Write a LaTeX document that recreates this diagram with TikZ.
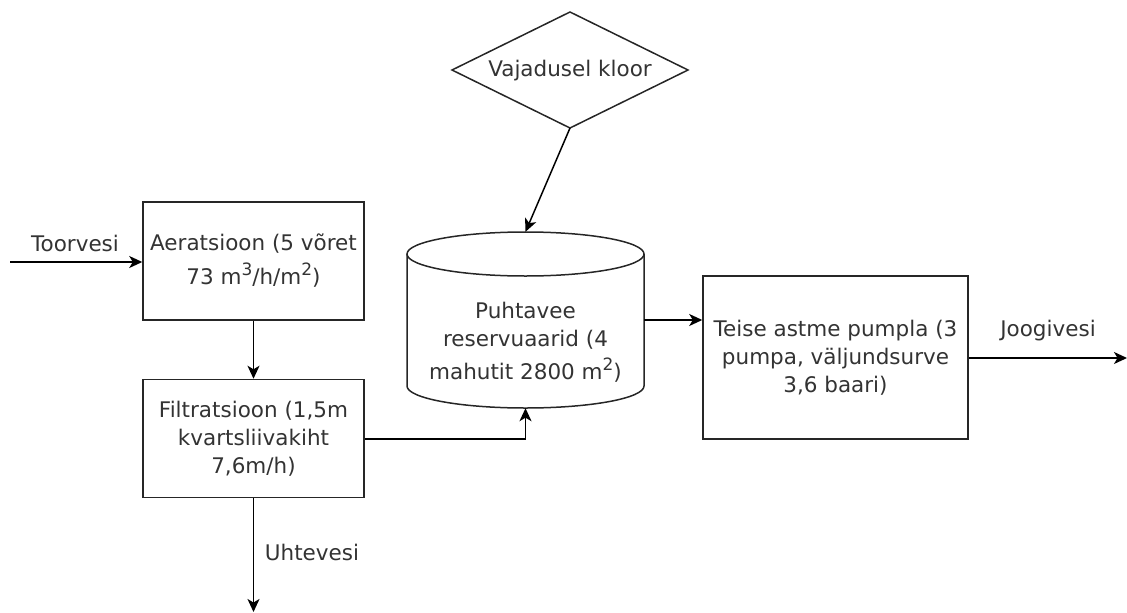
\documentclass[tikz,border=0pt]{standalone}
\usepackage{fontspec}
\setmainfont{DejaVu Sans}
\usetikzlibrary{arrows.meta}
\newcommand\supx[1]{\raisebox{0.42em}{\fontsize{17}{17}\selectfont #1}}
\tikzset{
  every node/.style={font=\fontsize{21.5}{28}\selectfont, text=black!80},
  procbox/.style={draw=black!85, line width=1.5pt, rectangle, inner sep=0pt, align=center},
  shapeline/.style={draw=black!85, line width=1.5pt},
  flow/.style={draw=black, line width=1.5pt, -{Stealth[length=13pt,width=12pt,inset=3.5pt]}},
  lbl/.style={inner sep=0pt, align=center},
}
\begin{document}
\begin{tikzpicture}[x=1pt,y=-1pt]
\useasboundingbox (0,0) rectangle (1127,613);
% boxes
\node[procbox, minimum width=221pt, minimum height=118pt] (aer) at (253.5,261)
  {Aeratsioon (5 võret\\[6pt] 73 m\supx{3}/h/m\supx{2})};
\node[procbox, minimum width=221pt, minimum height=118pt] (fil) at (253.5,438.5)
  {Filtratsioon (1,5m\\ kvartsliivakiht\\ 7,6m/h)};
\node[procbox, minimum width=265pt, minimum height=163pt] (pump) at (835.5,357.5)
  {Teise astme pumpla (3\\ pumpa, väljundsurve\\ 3,6 baari)};
% chlorine decision (diamond)
\node[lbl] (chl) at (570,71) {Vajadusel kloor};
\coordinate (chlN) at (570,12);
\coordinate (chlS) at (570,128);
\coordinate (chlW) at (452,70);
\coordinate (chlE) at (688,70);
\draw[shapeline, line join=miter] (chlN) -- (chlE) -- (chlS) -- (chlW) -- cycle;
% reservoir (cylinder)
\node[minimum width=237pt, minimum height=176pt, inner sep=0pt] (res) at (525.5,320) {};
\draw[shapeline] (525.5,254) ellipse[x radius=118.5pt, y radius=22pt];
\draw[shapeline]
  (407,254) -- (407,386) arc[start angle=180, end angle=360, x radius=118.5pt, y radius=22pt] -- (644,254);
\node[lbl] (restext) at (525.5,342) {Puhtavee\\ reservuaarid (4\\[5pt] mahutit 2800 m\supx{2})};
% free ends
\coordinate (in) at (10,262);
\coordinate (out) at (1127,358);
\coordinate (down) at (253.5,612);
% connectors
\draw[flow] (in) -- (aer.west |- in);
\draw[flow] (aer.south) -- (fil.north);
\draw[flow] (fil.east |- 0,439) -| (res.south);
\draw[flow] (fil.south) -- (down);
\draw[flow] (chlS) -- (res.north);
\draw[flow] (res.east) -- (pump.west |- res.east);
\draw[flow] (pump.east |- out) -- (out);
% labels
\node[lbl] (ltoor) at (75,243) {Toorvesi};
\node[lbl] (luht) at (312,552) {Uhtevesi};
\node[lbl] (ljoog) at (1048,331) {Joogivesi};
\end{tikzpicture}
\end{document}
